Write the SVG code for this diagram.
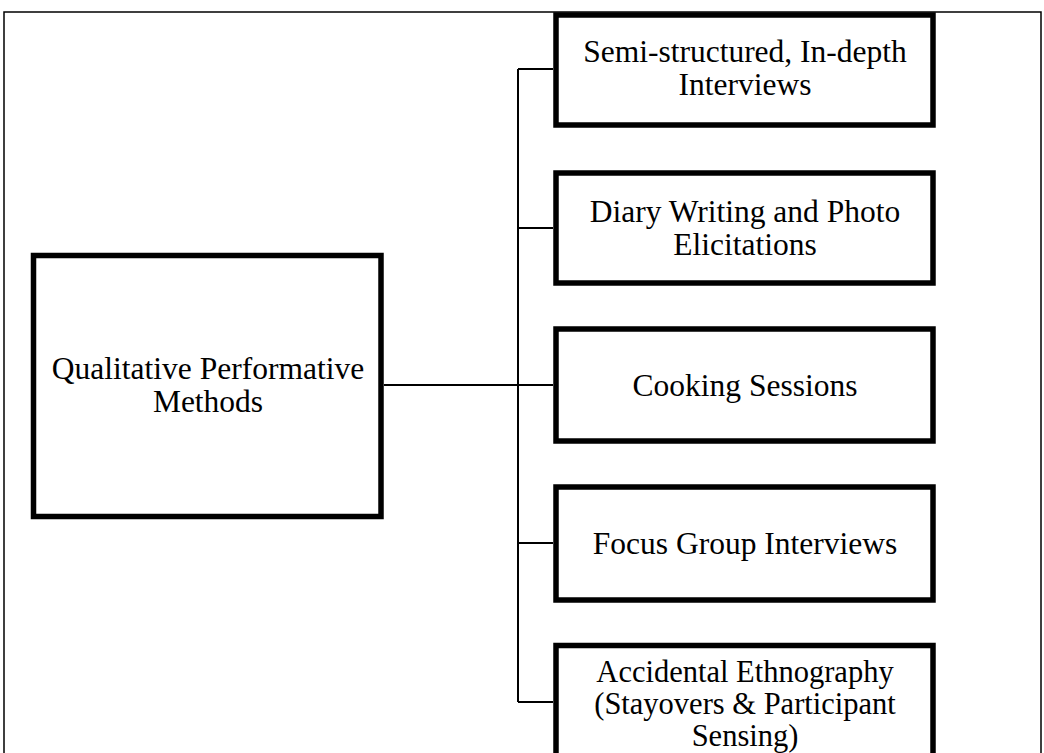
<svg xmlns="http://www.w3.org/2000/svg" width="1044" height="753" viewBox="0 0 1044 753">
<style>
.box{fill:#fff;stroke:#000;stroke-width:5.5}
.frame{fill:none;stroke:#000;stroke-width:1.5}
.conn{fill:none;stroke:#000;stroke-width:2}
text{font-family:"Liberation Serif","Times New Roman",serif;font-size:31.5px;fill:#000;text-anchor:middle}
.tight{font-size:30.5px}
</style>
<rect width="1044" height="753" fill="#fff"/>
<path class="frame" d="M4,753 V12 H1041 V753"/>
<g id="connectors">
<path class="conn" d="M384,385 H518"/>
<path class="conn" d="M518,69 V702"/>
<path class="conn" d="M518,69 H553"/>
<path class="conn" d="M518,228 H553"/>
<path class="conn" d="M518,385 H553"/>
<path class="conn" d="M518,543 H553"/>
<path class="conn" d="M518,702 H553"/>
</g>
<g id="main">
<rect class="box" x="33.5" y="255.5" width="347.5" height="261"/>
<text x="208" y="379">Qualitative Performative</text>
<text x="208" y="412">Methods</text>
</g>
<g id="interviews">
<rect class="box" x="556" y="15" width="377" height="110"/>
<text x="745" y="62">Semi-structured, In-depth</text>
<text x="745" y="95">Interviews</text>
</g>
<g id="diary">
<rect class="box" x="556" y="173" width="377" height="110"/>
<text x="745" y="221.5">Diary Writing and Photo</text>
<text x="745" y="254.5">Elicitations</text>
</g>
<g id="cooking">
<rect class="box" x="556" y="329" width="377" height="112"/>
<text x="745" y="395.5">Cooking Sessions</text>
</g>
<g id="focus">
<rect class="box" x="556" y="487" width="377" height="113"/>
<text x="745" y="554">Focus Group Interviews</text>
</g>
<g id="ethnography">
<rect class="box" x="556" y="645.5" width="377" height="120"/>
<text class="tight" x="745" y="682">Accidental Ethnography</text>
<text class="tight" x="745" y="714">(Stayovers &amp; Participant</text>
<text class="tight" x="745" y="745.5">Sensing)</text>
</g>
</svg>
